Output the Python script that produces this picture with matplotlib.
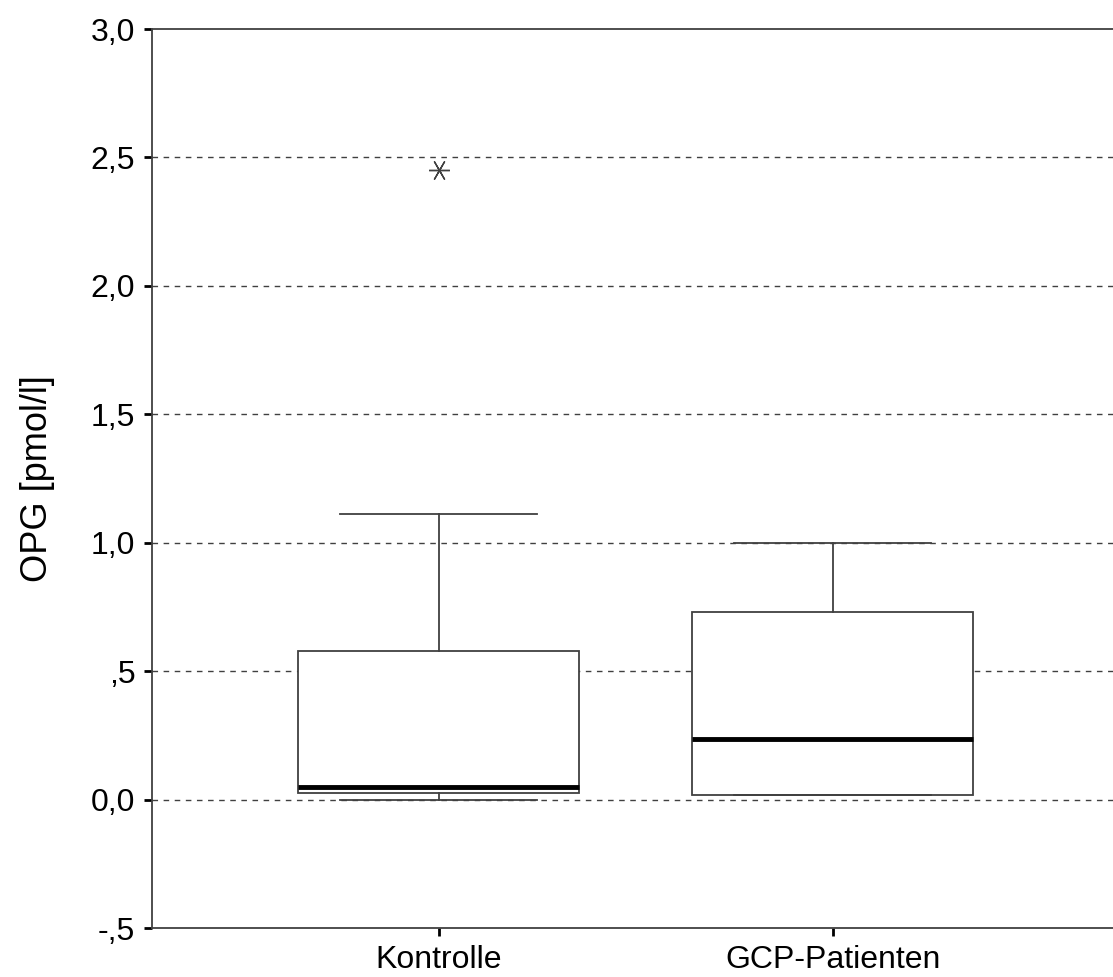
import numpy as np
import matplotlib
matplotlib.use('Agg')
import matplotlib.pyplot as plt

groups = ['Kontrolle', 'GCP-Patienten']
whisker_low = [0.0, 0.016]
q1 = [0.027, 0.016]
median = [0.047, 0.237]
q3 = [0.58, 0.73]
whisker_high = [1.11, 1.0]
outliers = [[2.45], []]

yticks = [-0.5, 0.0, 0.5, 1.0, 1.5, 2.0, 2.5, 3.0]
ytick_labels = ['-,5', '0,0', ',5', '1,0', '1,5', '2,0', '2,5', '3,0']

line_col = '#404040'

plt.rcParams['font.family'] = ['Liberation Sans', 'DejaVu Sans']

fig = plt.figure(figsize=(11.13, 9.77), dpi=100, facecolor='white')
ax = fig.add_axes([152 / 1113, 1 - 928 / 977, 1 - 152 / 1113, (928 - 29) / 977])

stats = []
for i, g in enumerate(groups):
    stats.append({'label': g, 'whislo': whisker_low[i], 'q1': q1[i], 'med': median[i],
                  'q3': q3[i], 'whishi': whisker_high[i], 'fliers': outliers[i]})

ax.bxp(stats, positions=[1, 2], widths=0.713, patch_artist=True, showfliers=True,
       boxprops=dict(facecolor='white', edgecolor=line_col, linewidth=1.3),
       medianprops=dict(color='black', linewidth=3.5),
       whiskerprops=dict(color=line_col, linewidth=1.3),
       capprops=dict(color=line_col, linewidth=1.3), capwidths=0.5,
       flierprops=dict(marker=(6, 2, 30), markersize=15, markeredgecolor=line_col,
                       markeredgewidth=1.0, linestyle='none'),
       zorder=3)

for y in [0.0, 0.5, 1.0, 1.5, 2.0, 2.5]:
    ax.axhline(y, color=line_col, linestyle=(0, (4, 4)), linewidth=1.0, zorder=1)

ax.set_xlim(0.272, 2.711)
ax.set_ylim(-0.5, 3.0)
ax.set_yticks(yticks)
ax.set_yticklabels(ytick_labels)
ax.set_xticks([1, 2])
ax.set_xticklabels(groups)

for s in ['left', 'bottom', 'top']:
    ax.spines[s].set_color(line_col)
    ax.spines[s].set_linewidth(1.3)
ax.spines['right'].set_visible(False)

ax.tick_params(axis='y', direction='out', length=6, width=2, color='black', labelsize=23, pad=6)
ax.tick_params(axis='x', direction='out', length=6, width=2, color='black', labelsize=23, pad=6)
ax.set_ylabel('OPG [pmol/l]', fontsize=26, labelpad=26)

fig.savefig('out.png', dpi=100, facecolor='white')
